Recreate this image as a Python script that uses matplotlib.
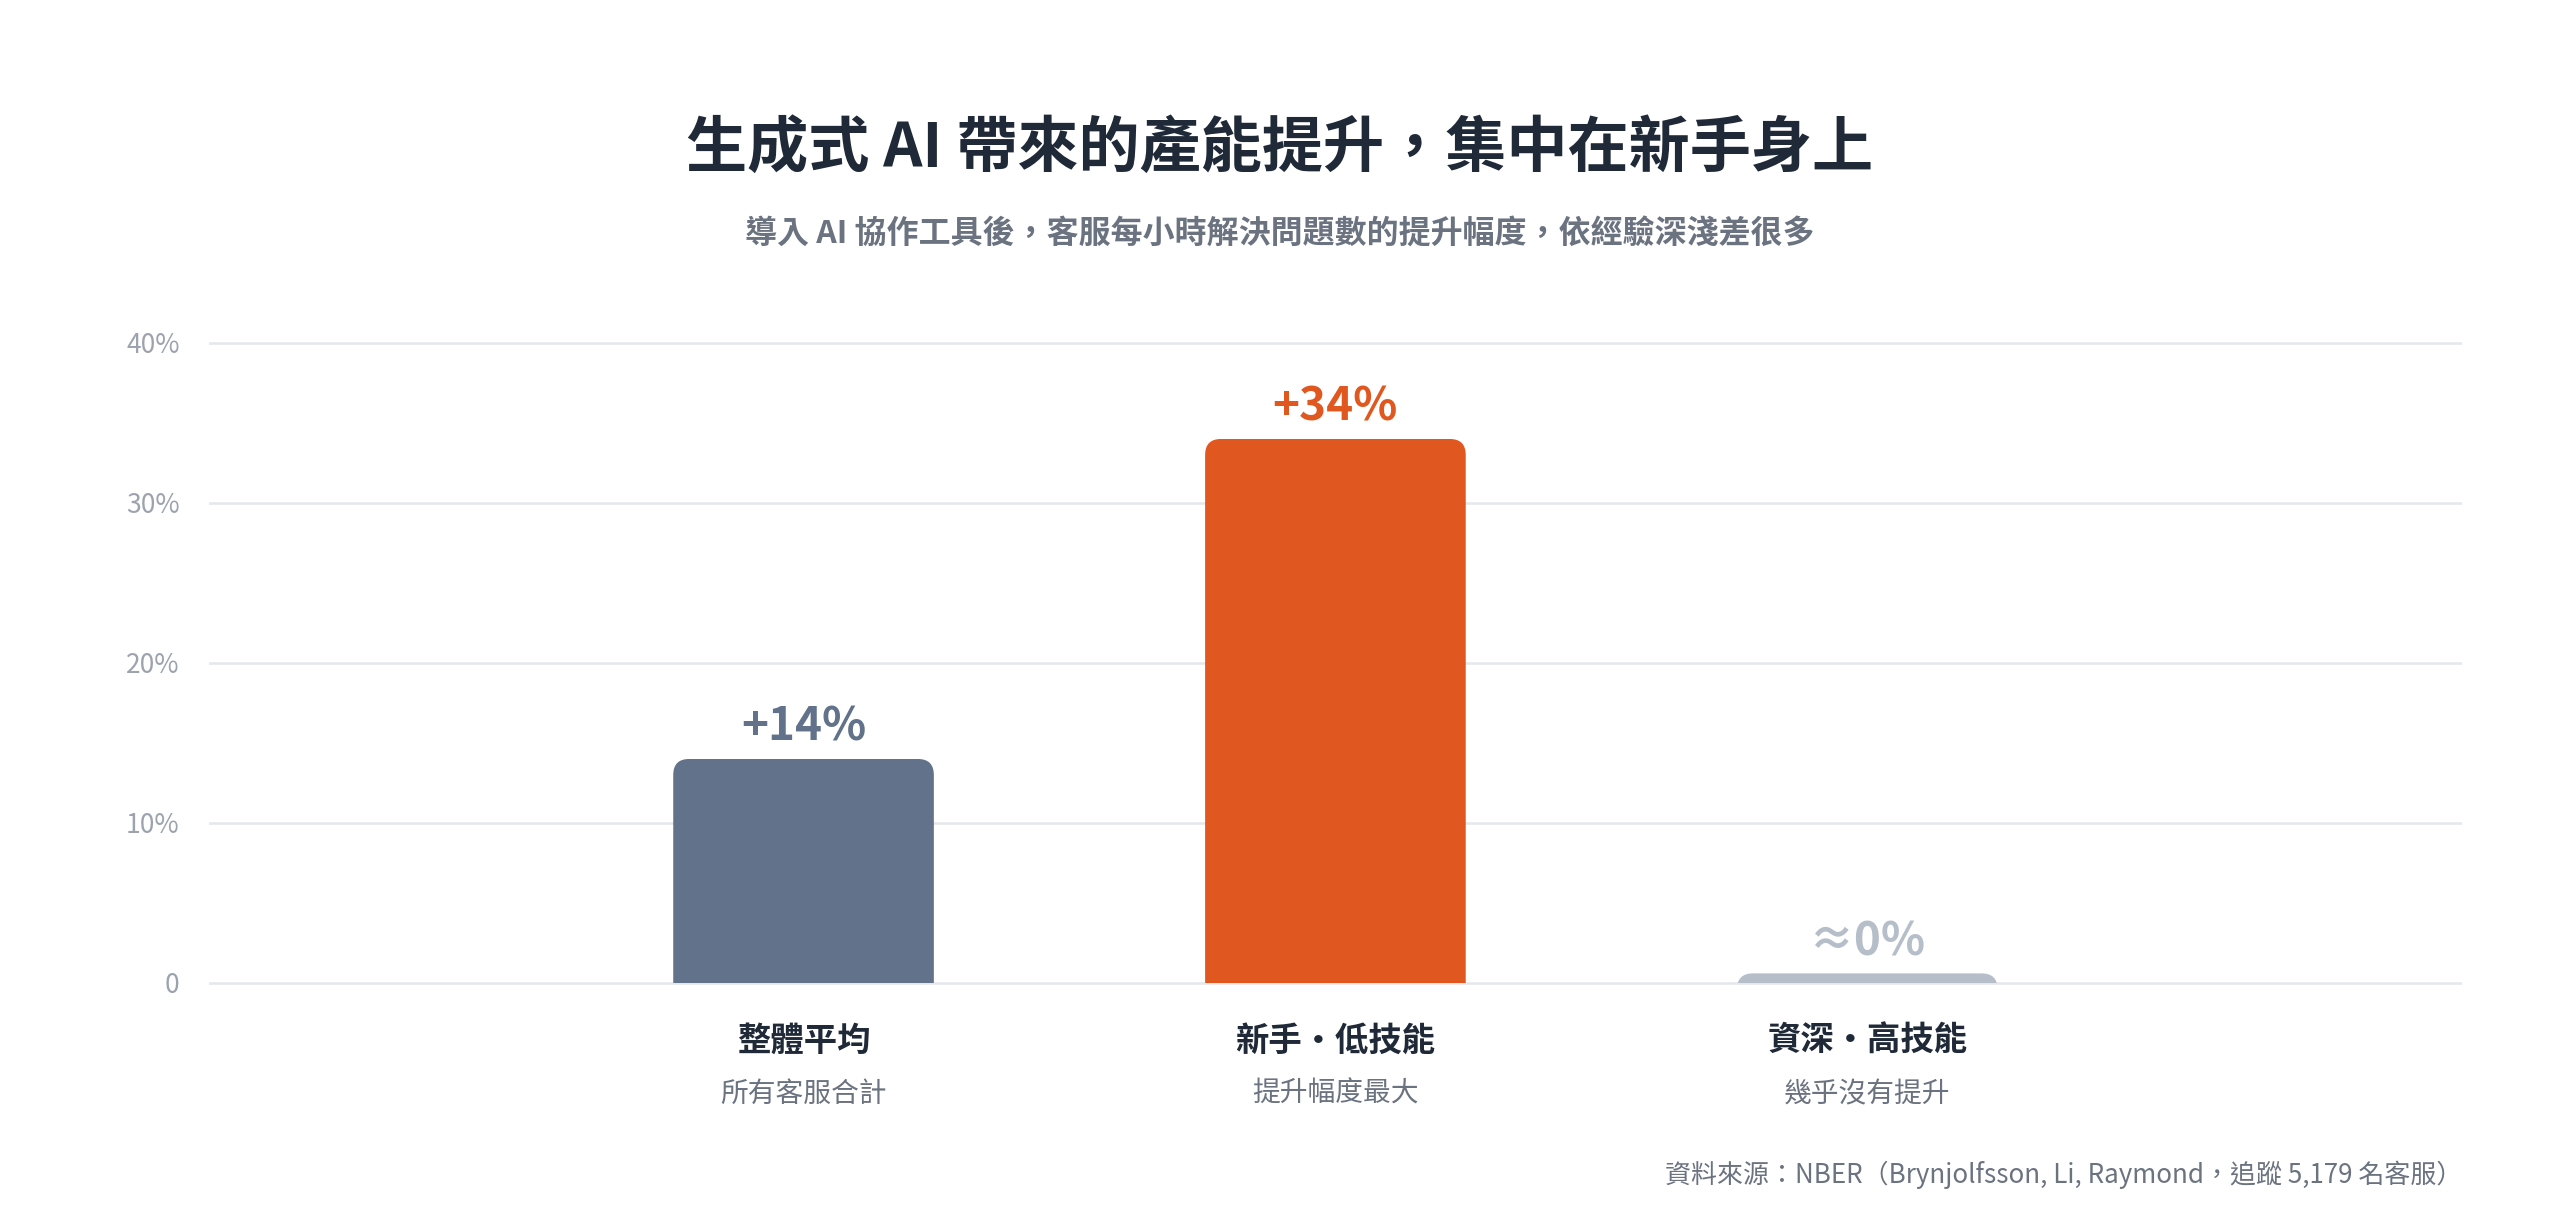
import matplotlib
matplotlib.use('Agg')
import matplotlib.pyplot as plt
import matplotlib.transforms as mtransforms
from matplotlib.patches import FancyBboxPatch

plt.rcParams['font.family'] = ['Noto Sans CJK TC', 'DejaVu Sans']

# data
categories = ['整體平均', '新手・低技能', '資深・高技能']
subtitles = ['所有客服合計', '提升幅度最大', '幾乎沒有提升']
values = [14, 34, 0.6]
value_labels = ['+14%', '+34%', '≈0%']
bar_colors = ['#62728b', '#e0571f', '#b6bec9']
yticks = [0, 10, 20, 30, 40]
ytick_labels = ['0', '10%', '20%', '30%', '40%']

fig = plt.figure(figsize=(25.6, 12.15), dpi=100)
ax = fig.add_axes([0.0816, 0.1778, 0.8801, 0.5531])

x = list(range(len(categories)))
bars = ax.bar(x, values, width=0.49, color='none', edgecolor='none')

# rounded top corners: rounded patch clipped to the bar rectangle
rx = 0.03   # x data units
ry = 1.0    # y data units
for b, c in zip(bars, bar_colors):
    bx, bw, bh = b.get_x(), b.get_width(), b.get_height()
    p = FancyBboxPatch((bx, -3 * ry), bw, bh + 3 * ry,
                       boxstyle='round,pad=0,rounding_size=%f' % rx,
                       mutation_aspect=ry / rx, facecolor=c, edgecolor='none', zorder=3)
    ax.add_patch(p)
    p.set_clip_path(b)

for xi, v, lab, c in zip(x, values, value_labels, bar_colors):
    ax.text(xi, v + 0.5, lab, ha='center', va='bottom', fontsize=33,
            fontweight='bold', color=c, zorder=4)

ax.set_xlim(-1.118, 3.118)
ax.set_ylim(-1, 41)
ax.set_yticks(yticks)
ax.set_yticklabels(ytick_labels)
ax.set_xticks([])
ax.tick_params(axis='y', length=0, pad=21, labelsize=19, labelcolor='#9ca3af')
ax.grid(axis='y', color='#e5e7eb', linewidth=1.8, zorder=0)
ax.set_axisbelow(True)
for s in ax.spines.values():
    s.set_visible(False)

trans = mtransforms.blended_transform_factory(ax.transData, fig.transFigure)
for xi, cat, sub in zip(x, categories, subtitles):
    ax.text(xi, 0.1432, cat, transform=trans, ha='center', va='center',
            fontsize=24, fontweight='heavy', color='#1f2937')
    ax.text(xi, 0.0996, sub, transform=trans, ha='center', va='center',
            fontsize=20, color='#6b7280')

fig.text(0.5, 0.877, '生成式 AI 帶來的產能提升，集中在新手身上', ha='center', va='center',
         fontsize=44, fontweight='heavy', color='#1f2937')
fig.text(0.5, 0.8065, '導入 AI 協作工具後，客服每小時解決問題數的提升幅度，依經驗深淺差很多',
         ha='center', va='center', fontsize=23, fontweight='bold', color='#6b7280')
fig.text(0.9617, 0.033, '資料來源：NBER（Brynjolfsson, Li, Raymond，追蹤 5,179 名客服）',
         ha='right', va='center', fontsize=18.7, color='#6b7280')

plt.savefig('out.png', dpi=100, facecolor='white')
